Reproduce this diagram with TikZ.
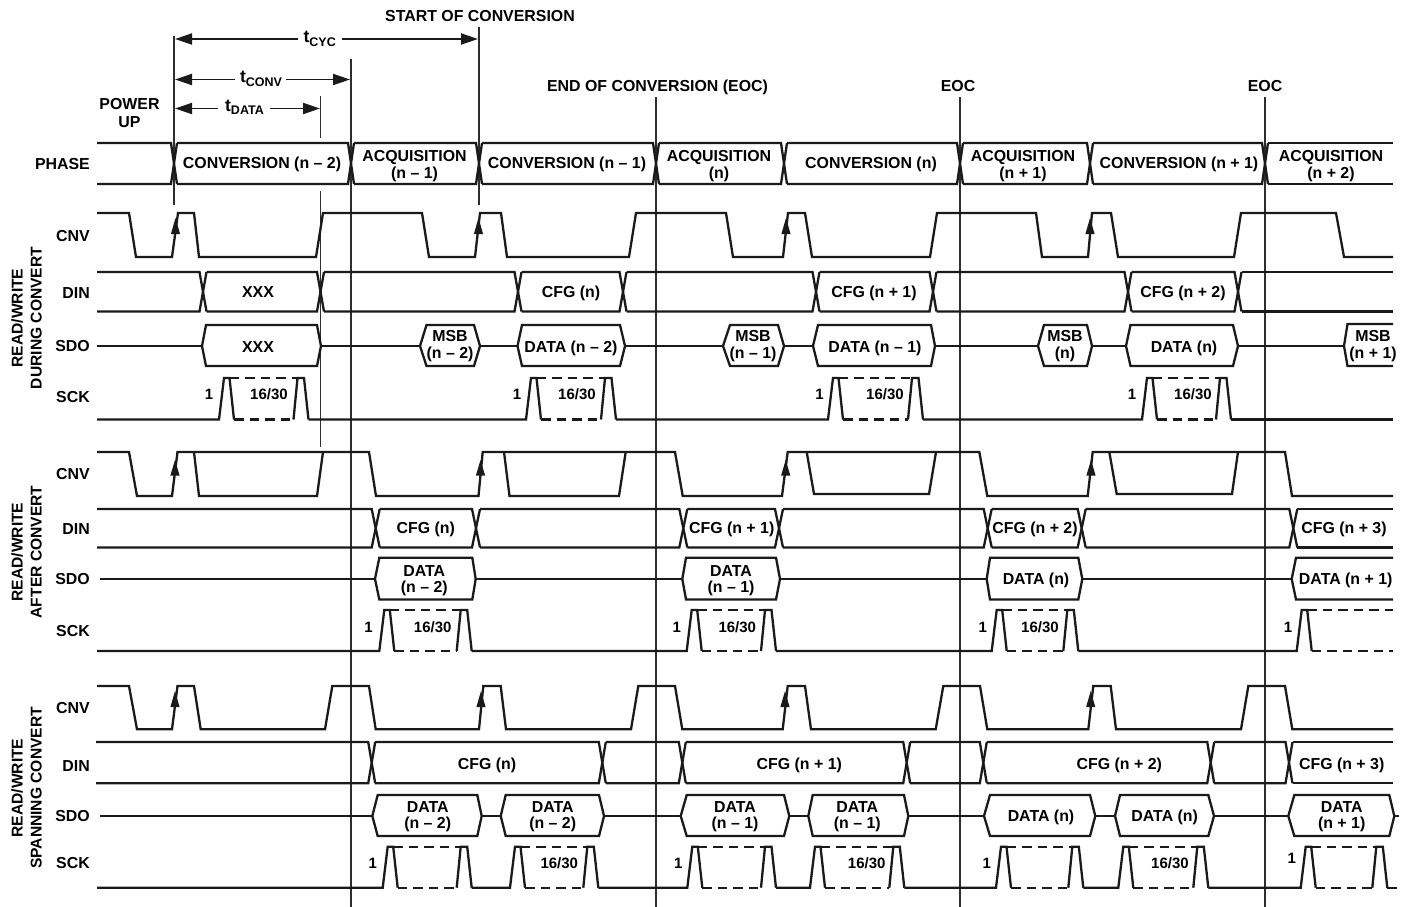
\documentclass[tikz,border=0pt]{standalone}
\usepackage{fontspec}
\setmainfont{Liberation Sans}
\usetikzlibrary{arrows.meta}
\definecolor{wavecol}{HTML}{1A1A1A}
\definecolor{vertcol}{HTML}{2E2E2E}
\newcounter{lbl}
\tikzset{
  wave/.style={line width=2.3pt,draw=wavecol,line join=miter},
  wavedash/.style={line width=2.3pt,draw=wavecol,dash pattern=on 9.5pt off 6pt},
  vert/.style={line width=1.1pt,draw=vertcol},
  dimline/.style={line width=1.9pt,draw=wavecol},
  lab/.style={inner sep=0pt,font=\fontsize{15.9}{16.5}\selectfont\bfseries,text=black},
  siglab/.style={lab,anchor=base east},
  num/.style={inner sep=0pt,font=\fontsize{15}{16}\selectfont\bfseries,text=black,anchor=base},
  side/.style={lab,rotate=90,align=center,font=\fontsize{15.6}{19}\selectfont\bfseries},
}
% one line of text, y is the middle of the capitals
\newcommand{\tlab}[3]{\stepcounter{lbl}\node[lab,anchor=base] (L\thelbl) at (#1,#2+5.6) {#3};}
% two lines of text, y is the middle of the capitals of the first line
\newcommand{\tlabb}[4]{\stepcounter{lbl}\node[lab,anchor=north,align=center] (L\thelbl) at (#1,#2-5.6) {#3\\#4};}
\newcommand{\slab}[3]{\stepcounter{lbl}\node[siglab] (L\thelbl) at (#1,#2+5.6) {#3};}
\newcommand{\nlab}[3]{\stepcounter{lbl}\node[num] (L\thelbl) at (#1,#2+5.3) {#3};}
\newcommand{\tsubs}[1]{{\fontsize{17.5}{17.5}\selectfont t}\raisebox{-3.4pt}{\fontsize{12.5}{12.5}\selectfont #1}}
% bus: y1,y2,half crossing,start,crossings,last crossing,end
\newcommand{\bus}[7]{%
  \foreach \cc [remember=\cc as \pp (initially #4-#3)] in {#5}{%
    \draw[wave] ({\pp+#3},#1) -- ({\cc-#3},#1) -- ({\cc+#3},#2);
    \draw[wave] ({\pp+#3},#2) -- ({\cc-#3},#2) -- ({\cc+#3},#1);
  }%
  \draw[wave] ({#6+#3},#1) -- (#7,#1);
  \draw[wave] ({#6+#3},#2) -- (#7,#2);
}
% hexagon: tipL,cornerL,cornerR,tipR,ytop,ymid,ybot
\newcommand{\hexa}[7]{\draw[wave,fill=white] (#1,#6) -- (#2,#5) -- (#3,#5) -- (#4,#6) -- (#3,#7) -- (#2,#7) -- cycle;}
\newcommand{\hexo}[6]{\draw[wave] (#3,#4) -- (#2,#4) -- (#1,#5) -- (#2,#6) -- (#3,#6);}
% clock burst: yh,yl,previous x,x1,x2
\newcommand{\burst}[5]{%
  \draw[wave] (#3,#2) -- (#4,#2) -- ({#4+5},#1) -- ({#4+10.5},#1) -- ({#4+15},#2);
  \draw[wavedash] ({#4+10.5},#1) -- ({#5-11},#1);
  \draw[wavedash] ({#4+15},#2) -- ({#5-15},#2);
  \draw[wave] ({#5-15},#2) -- ({#5-11},#1) -- ({#5-4.5},#1) -- (#5,#2);
}
\newcommand{\cnvarr}[3]{\fill[wavecol] (#1,#2) -- ({#1+4.6},#3) -- ({#1-4.6},#3) -- cycle;}
\begin{document}
\begin{tikzpicture}[x=1pt,y=-1pt]
\useasboundingbox (0,0) rectangle (1409,907);
% vertical reference lines
\draw[vert] (174,36) -- (174,205);
\draw[vert] (479,27) -- (479,205);
\draw[vert] (320.5,96) -- (320.5,138);
\draw[vert] (320.5,191) -- (320.5,447);
\draw[vert] (351,59) -- (351,907);
\draw[vert] (656,97) -- (656,907);
\draw[vert] (960,97) -- (960,907);
\draw[vert] (1265,97) -- (1265,907);
% dimensions
\draw[dimline,{Triangle[length=17pt,width=11pt]}-] (175,39) -- (298,39);
\draw[dimline,-{Triangle[length=17pt,width=11pt]}] (342,39) -- (478,39);
\draw[dimline,{Triangle[length=17pt,width=11pt]}-] (175,79.5) -- (235,79.5);
\draw[dimline,-{Triangle[length=17pt,width=11pt]}] (286,79.5) -- (350,79.5);
\draw[dimline,{Triangle[length=17pt,width=11pt]}-] (175,108.5) -- (218,108.5);
\draw[dimline,-{Triangle[length=17pt,width=11pt]}] (270,108.5) -- (320,108.5);
\node[lab,anchor=base] (tcyc) at (319.7,43) {\tsubs{CYC}};
\node[lab,anchor=base] (tconv) at (261,83) {\tsubs{CONV}};
\node[lab,anchor=base] (tdata) at (244.5,111) {\tsubs{DATA}};
% top captions
\tlab{480}{15.5}{START OF CONVERSION}
\tlab{657.5}{86}{END OF CONVERSION (EOC)}
\tlab{958}{86}{EOC}
\tlab{1265}{86}{EOC}
\tlab{129.5}{104}{POWER}
\tlab{129.5}{122}{UP}
% signal names
\slab{90}{164}{PHASE}
\slab{90}{236}{CNV}\slab{90}{293}{DIN}\slab{90}{346}{SDO}\slab{90}{397}{SCK}
\slab{90}{474}{CNV}\slab{90}{529}{DIN}\slab{90}{579}{SDO}\slab{90}{631}{SCK}
\slab{90}{708}{CNV}\slab{90}{766}{DIN}\slab{90}{816}{SDO}\slab{90}{863}{SCK}
\node[side] (g1) at (26.5,318) {READ/WRITE\\DURING CONVERT};
\node[side] (g2) at (26.5,552) {READ/WRITE\\AFTER CONVERT};
\node[side] (g3) at (26.5,788) {READ/WRITE\\SPANNING CONVERT};
% PHASE
\bus{143}{184}{3}{97}{174,351,479,656,784,960,1090,1265}{1265}{1393}
\tlab{262}{163}{CONVERSION (n – 2)}
\tlabb{414.5}{156}{ACQUISITION}{(n – 1)}
\tlab{567}{163}{CONVERSION (n – 1)}
\tlabb{719}{156}{ACQUISITION}{(n)}
\tlab{871}{163}{CONVERSION (n)}
\tlabb{1023}{156}{ACQUISITION}{(n + 1)}
\tlab{1179}{163}{CONVERSION (n + 1)}
\tlabb{1331}{156}{ACQUISITION}{(n + 2)}
% === during convert ===
\draw[wave] (97,213) -- (129,213) -- (136,257) -- (172,257) -- (178,213) -- (194,213) -- (199,257) -- (316,257) -- (323,213) -- (422,213) -- (429,257) -- (475,257) -- (480,213) -- (501,213) -- (507,257) -- (629,257) -- (636,213) -- (726,213) -- (733,257) -- (783,257) -- (788,213) -- (805,213) -- (812,257) -- (930,257) -- (937,213) -- (1036,213) -- (1042,257) -- (1088,257) -- (1092,213) -- (1111,213) -- (1118,257) -- (1234,257) -- (1241,213) -- (1336,213) -- (1344,257) -- (1393,257);
\cnvarr{175.5}{218}{234}\cnvarr{478.5}{218}{234}\cnvarr{786}{218}{234}\cnvarr{1090}{218}{234}
\bus{272}{311.5}{3.5}{97}{203,320.5,518,623,816,933,1128,1238}{1238}{1393}
\tlab{258}{292}{XXX}\tlab{571}{292}{CFG (n)}\tlab{874}{292}{CFG (n + 1)}\tlab{1183}{292}{CFG (n + 2)}
\draw[wave] (97,346) -- (1344,346);
\hexa{202}{206}{317}{321}{325}{346}{366}
\hexa{420}{426.5}{474}{480}{325}{346}{366}
\hexa{517.5}{522}{620}{625}{325}{346}{366}
\hexa{723}{730}{778}{784}{325}{346}{366}
\hexa{813}{818}{931}{935}{325}{346}{366}
\hexa{1038}{1044}{1087}{1092}{325}{346}{366}
\hexa{1126}{1130.5}{1233}{1238}{325}{346}{366}
\hexo{1344}{1347.5}{1393}{324}{346}{366}
\tlab{258}{346.5}{XXX}
\tlabb{450}{336}{MSB}{(n – 2)}
\tlab{571}{346.5}{DATA (n – 2)}
\tlabb{753}{336}{MSB}{(n – 1)}
\tlab{875}{346.5}{DATA (n – 1)}
\tlabb{1065}{336}{MSB}{(n)}
\tlab{1184}{346.5}{DATA (n)}
\tlabb{1373}{336}{MSB}{(n + 1)}
\burst{378}{419.5}{97}{219}{308.5}
\burst{378}{419.5}{308.5}{526}{616}
\burst{378}{419.5}{616}{828}{923}
\burst{378}{419.5}{923}{1142}{1231}
\draw[wave] (1231,419.5) -- (1393,419.5);
\nlab{209}{394}{1}\nlab{269}{394}{16/30}
\nlab{517}{394}{1}\nlab{577}{394}{16/30}
\nlab{819.5}{394}{1}\nlab{885}{394}{16/30}
\nlab{1132}{394}{1}\nlab{1193}{394}{16/30}
% === after convert ===
\draw[wave] (97,452) -- (129,452) -- (137,496) -- (172,496) -- (177.5,452) -- (369,452) -- (376,496) -- (478.5,496) -- (482.7,452) -- (675,452) -- (682.7,496) -- (782,496) -- (787.7,452) -- (979.3,452) -- (987.3,496) -- (1087.7,496) -- (1092.7,452) -- (1285,452) -- (1292,496) -- (1393,496);
\draw[wave] (194,452) -- (199,496) -- (317,496) -- (323,452);
\draw[wave] (504,452) -- (509.5,496) -- (619,496) -- (625.7,452);
\draw[wave] (806.7,452) -- (814,494) -- (929,494) -- (936,452);
\draw[wave] (1109.3,452) -- (1116.7,494) -- (1232,494) -- (1238,452);
\cnvarr{175}{460}{475.5}\cnvarr{480.5}{460}{475.5}\cnvarr{785.7}{460}{475.5}\cnvarr{1091}{460}{475.5}
\bus{509}{547.5}{4}{97}{375.7,476,683.3,779,987.7,1081.7,1293.3}{1293.3}{1393}
\tlab{425.7}{527.5}{CFG (n)}\tlab{731.7}{527.5}{CFG (n + 1)}\tlab{1035}{527.5}{CFG (n + 2)}\tlab{1344}{527.5}{CFG (n + 3)}
\draw[wave] (100,579) -- (1291.7,579);
\hexa{375}{379.3}{472.3}{475.7}{557.7}{579}{599.5}
\hexa{682.3}{686}{776}{780}{557.7}{579}{599.5}
\hexa{986.7}{990}{1078.3}{1082.3}{557.7}{579}{599.5}
\hexo{1291.7}{1296}{1393}{557.7}{579}{599.5}
\tlabb{424.3}{570.7}{DATA}{(n – 2)}
\tlabb{731}{570.7}{DATA}{(n – 1)}
\tlab{1036}{579}{DATA (n)}
\tlab{1345.7}{579}{DATA (n + 1)}
\burst{610}{651}{97}{379.3}{471.7}
\burst{610}{651}{471.7}{686.7}{776}
\burst{610}{651}{776}{991.7}{1078.3}
\draw[wave] (1078.3,651) -- (1296.7,651) -- (1301.7,610) -- (1307.2,610) -- (1311.7,651);
\draw[wavedash] (1307.2,610) -- (1393,610);
\draw[wavedash] (1311.7,651) -- (1393,651);
\nlab{368.5}{627}{1}\nlab{432.7}{627}{16/30}
\nlab{676.7}{627}{1}\nlab{737.3}{627}{16/30}
\nlab{982.7}{627}{1}\nlab{1040}{627}{16/30}
\nlab{1288}{627}{1}
% === spanning convert ===
\draw[wave] (97,686) -- (129,686) -- (137,729.3) -- (172,729.3) -- (177.5,686) -- (194,686) -- (200.7,729.3) -- (325,729.3) -- (332.3,686) -- (369,686) -- (375.7,729.3) -- (479,729.3) -- (483.3,686) -- (500.7,686) -- (506,729.3) -- (631,729.3) -- (638.3,686) -- (675,686) -- (682.3,729.3) -- (782.7,729.3) -- (787.7,686) -- (805,686) -- (811,729.3) -- (935.7,729.3) -- (943.3,686) -- (980,686) -- (987.3,729.3) -- (1088.3,729.3) -- (1093.3,686) -- (1110.7,686) -- (1116,729.3) -- (1241,729.3) -- (1248.3,686) -- (1285,686) -- (1292.3,729.3) -- (1393,729.3);
\cnvarr{175}{691}{707}\cnvarr{481}{691}{707}\cnvarr{785}{691}{707}\cnvarr{1090.7}{691}{707}
\bus{742}{783.3}{3.5}{96}{371.7,602.3,682.3,906.7,983.3,1210.7,1289}{1289}{1393}
\tlab{487}{763.5}{CFG (n)}\tlab{799.3}{763.5}{CFG (n + 1)}\tlab{1119.3}{763.5}{CFG (n + 2)}\tlab{1341.7}{763.5}{CFG (n + 3)}
\draw[wave] (100,816) -- (1399,816);
\hexa{372.3}{377.7}{477.3}{481.7}{795}{816}{836}
\hexa{500.7}{505.7}{599}{604}{795}{816}{836}
\hexa{680.7}{686.7}{784}{789.3}{795}{816}{836}
\hexa{808.3}{812.7}{904}{908.3}{795}{816}{836}
\hexa{984}{990}{1090}{1095.3}{795}{816}{836}
\hexa{1115}{1120}{1208.3}{1214}{795}{816}{836}
\hexa{1288.3}{1294.3}{1389.3}{1394.3}{795}{816}{836}
\tlabb{427.7}{806.7}{DATA}{(n – 2)}
\tlabb{552.7}{806.7}{DATA}{(n – 2)}
\tlabb{735}{806.7}{DATA}{(n – 1)}
\tlabb{857.3}{806.7}{DATA}{(n – 1)}
\tlab{1041}{815.7}{DATA (n)}
\tlab{1164.7}{815.7}{DATA (n)}
\tlabb{1341.7}{806.7}{DATA}{(n + 1)}
\burst{846.7}{887.7}{97}{382.7}{471.7}
\burst{846.7}{887.7}{471.7}{510}{598.3}
\burst{846.7}{887.7}{598.3}{687.3}{776}
\burst{846.7}{887.7}{776}{810}{904.3}
\burst{846.7}{887.7}{904.3}{996}{1083.3}
\burst{846.7}{887.7}{1083.3}{1118.3}{1208.3}
\burst{846.7}{887.7}{1208.3}{1300.7}{1387.3}
\draw[wave] (1387.3,887.7) -- (1396.7,887.7);
\nlab{372.7}{863}{1}\nlab{559.3}{863}{16/30}
\nlab{678.3}{863}{1}\nlab{866.7}{863}{16/30}
\nlab{986.7}{863}{1}\nlab{1170}{863}{16/30}
\nlab{1291.7}{858.5}{1}
\end{tikzpicture}
\end{document}
